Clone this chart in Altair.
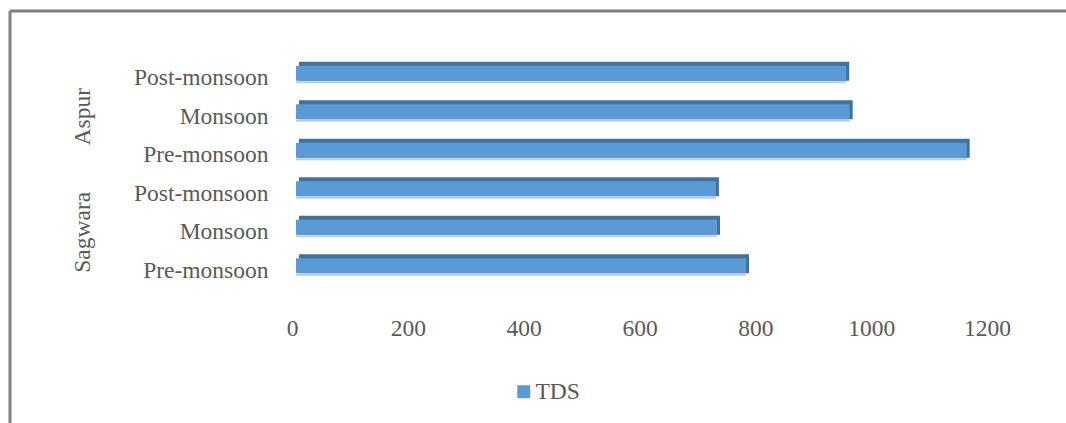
import altair as alt
import pandas as pd

locations = ["Aspur", "Aspur", "Aspur", "Sagwara", "Sagwara", "Sagwara"]
seasons = ["Post-monsoon", "Monsoon", "Pre-monsoon", "Post-monsoon", "Monsoon", "Pre-monsoon"]
tds = [950, 956, 1158, 725, 727, 777]
series_name = "TDS"
x_ticks = [0, 200, 400, 600, 800, 1000, 1200]
group_names = ["Aspur", "Sagwara"]

keys = [f"{l}|{s}" for l, s in zip(locations, seasons)]
df = pd.DataFrame({"key": keys, "loc": locations, "season": seasons, "tds": tds,
                   "series": [series_name] * len(tds)})
gdf = pd.DataFrame({"name": group_names, "key": [f"{g}|Monsoon" for g in group_names]})

FONT = "Liberation Serif"
TXT = "#595959"
FS = 23.5

yenc = alt.Y("key:N", sort=keys, title=None,
             scale=alt.Scale(paddingInner=0, paddingOuter=0),
             axis=alt.Axis(labelExpr="split(datum.value, '|')[1]", domain=False, ticks=False,
                           labelPadding=24, labelFont=FONT, labelFontSize=FS, labelColor=TXT,
                           labelBaseline="middle"))
xenc = alt.X("tds:Q", title=None,
             scale=alt.Scale(domain=[0, 1200], nice=False),
             axis=alt.Axis(values=x_ticks, format="d", domain=False, ticks=False, grid=False,
                           labelPadding=26, labelFont=FONT, labelFontSize=FS, labelColor=TXT,
                           labelFlush=False))

base = alt.Chart(df)

back = base.mark_bar(color="#41719C", size=19, xOffset=7, yOffset=-7).encode(y=yenc, x=xenc)
front = base.mark_bar(size=15, xOffset=4, yOffset=-5).encode(
    y=yenc, x=xenc,
    color=alt.Color("series:N", scale=alt.Scale(range=["#5B9BD5"]), title=None,
                    legend=alt.Legend(orient="none", legendX=220, legendY=321, symbolType="square",
                                      symbolSize=169, symbolStrokeWidth=0, labelFont=FONT,
                                      labelFontSize=FS, labelColor=TXT, labelOffset=0, padding=0)))
strip = base.mark_bar(color="#B4CDEA", size=2, xOffset=4, yOffset=4).encode(y=yenc, x=xenc)

groups = alt.Chart(gdf).mark_text(angle=270, font=FONT, fontSize=FS, color=TXT,
                                  align="center", baseline="middle").encode(
    y=alt.Y("key:N", sort=keys), x=alt.value(-209), text="name:N")

one = pd.DataFrame({"a": [0]})
top_line = alt.Chart(one).mark_rule(color="#808080", strokeWidth=3).encode(
    x=alt.value(10 - 292), x2=alt.value(1066 - 292), y=alt.value(11 - 59))
left_line = alt.Chart(one).mark_rule(color="#808080", strokeWidth=3).encode(
    x=alt.value(10 - 292), y=alt.value(11 - 59), y2=alt.value(423 - 59))

chart = alt.layer(top_line, left_line, back, front, strip, groups).properties(
    width=695, height=231,
    background="white",
    autosize=alt.AutoSizeParams(type="none"),
    padding={"left": 292, "top": 59, "right": 79, "bottom": 133},
).configure_view(strokeWidth=0, stroke="transparent")

chart.save("out.html", embed_options={"renderer": "svg", "actions": False})
